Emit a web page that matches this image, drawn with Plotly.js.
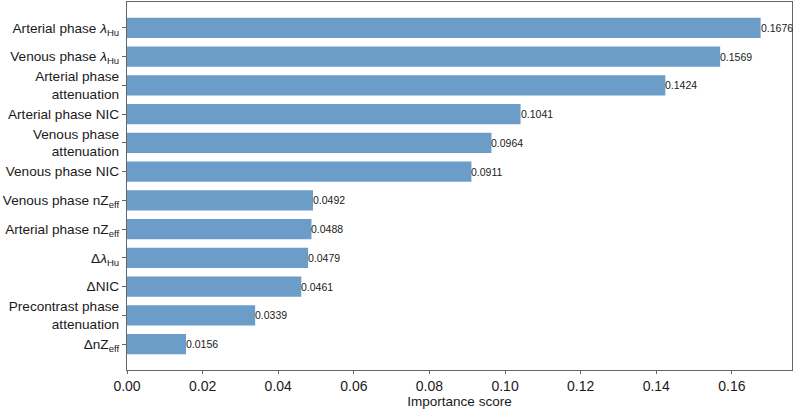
<!DOCTYPE html>
<html><head><meta charset="utf-8">
<script src="https://cdn.plot.ly/plotly-3.0.1.min.js"></script>
<style>html,body{margin:0;padding:0;background:#fff}</style>
</head><body>
<div id="chart" style="width:794px;height:410px"></div>
<script>
const categories = [
  "Arterial phase <i>λ</i><sub>Hu</sub>",
  "Venous phase <i>λ</i><sub>Hu</sub>",
  "Arterial phase<br>attenuation",
  "Arterial phase NIC",
  "Venous phase<br>attenuation",
  "Venous phase NIC",
  "Venous phase nZ<sub>eff</sub>",
  "Arterial phase nZ<sub>eff</sub>",
  "Δ<i>λ</i><sub>Hu</sub>",
  "ΔNIC",
  "Precontrast phase<br>attenuation",
  "ΔnZ<sub>eff</sub>"
];
const importance = [0.1676, 0.1569, 0.1424, 0.1041, 0.0964, 0.0911, 0.0492, 0.0488, 0.0479, 0.0461, 0.0339, 0.0156];
const valueLabels = importance.map(v => v.toFixed(4));
const xTicks = [0, 0.02, 0.04, 0.06, 0.08, 0.10, 0.12, 0.14, 0.16];
const xTickLabels = ["0.00","0.02","0.04","0.06","0.08","0.10","0.12","0.14","0.16"];

const trace = {
  type: 'bar', orientation: 'h',
  x: importance, y: categories,
  width: 0.7,
  marker: {color: '#6b9dc8', line: {width: 0}},
  hoverinfo: 'none'
};
const annotations = importance.map((v, i) => ({
  x: v, y: categories[i], xref: 'x', yref: 'y',
  text: valueLabels[i], showarrow: false,
  xanchor: 'left', yanchor: 'middle', xshift: -2,
  font: {family: 'Liberation Sans, Arial, sans-serif', size: 10.5, color: '#1a1a1a'}
}));
const layout = {
  width: 794, height: 410,
  margin: {l: 127, r: 2, t: 2, b: 40},
  paper_bgcolor: '#fff', plot_bgcolor: '#fff',
  font: {family: 'Liberation Sans, Arial, sans-serif', color: '#1a1a1a'},
  showlegend: false,
  annotations: annotations,
  xaxis: {
    range: [0, 0.1759], tickvals: xTicks, ticktext: xTickLabels,
    ticks: 'outside', ticklen: 3, tickcolor: '#666', tickwidth: 1,
    showgrid: false, zeroline: false,
    showline: true, linecolor: '#666', linewidth: 1.2, mirror: true,
    tickfont: {size: 14},
    title: {text: 'Importance score', font: {size: 13.5}, standoff: 1}
  },
  yaxis: {
    type: 'category', range: [11.9, -0.9],
    ticks: 'outside', ticklen: 4, tickcolor: '#666', tickwidth: 1,
    showgrid: false, zeroline: false,
    showline: true, linecolor: '#666', linewidth: 1.2, mirror: true,
    tickfont: {size: 13.6}
  }
};
Plotly.newPlot('chart', [trace], layout, {displayModeBar: false, staticPlot: true});
</script>
</body></html>
